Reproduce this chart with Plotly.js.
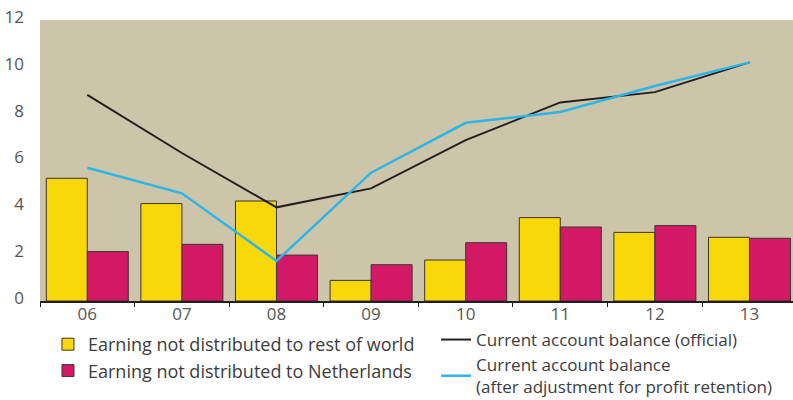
<!DOCTYPE html>
<html>
<head>
<meta charset="utf-8">
<script src="https://cdn.plot.ly/plotly-3.0.1.min.js"></script>
<style>html,body{margin:0;padding:0;background:#fff;}#chart{width:793px;height:400px;}</style>
</head>
<body>
<div id="chart"></div>
<script>
const years = ['06','07','08','09','10','11','12','13'];
const restOfWorld = [5.24, 4.16, 4.27, 0.88, 1.75, 3.56, 2.93, 2.72];
const netherlands = [2.11, 2.42, 1.96, 1.55, 2.49, 3.16, 3.22, 2.68];
const caOfficial = [8.80, 6.32, 4.00, 4.81, 6.87, 8.48, 8.92, 10.19];
const caAdjusted = [5.69, 4.60, 1.71, 5.48, 7.61, 8.07, 9.18, 10.19];
const yTicks = [0, 2, 4, 6, 8, 10, 12];

const legendFont1 = {family: 'Open Sans, DejaVu Sans, sans-serif', size: 18, color: '#3c3c3c'};
const legendFont2 = {family: 'Open Sans, DejaVu Sans, sans-serif', size: 17, color: '#3c3c3c'};
const tickFont = {family: 'Open Sans, Liberation Sans, sans-serif', size: 17, color: '#555555'};

const traces = [
  {type: 'bar', x: years, y: restOfWorld, name: 'Earning not distributed to rest of world',
   marker: {color: '#f8d808', line: {color: '#3a3530', width: 1}}, legend: 'legend'},
  {type: 'bar', x: years, y: netherlands, name: 'Earning not distributed to Netherlands',
   marker: {color: '#d31965', line: {color: '#3a3530', width: 1}}, legend: 'legend'},
  {type: 'scatter', mode: 'lines', x: years, y: caOfficial, name: 'Current account balance (official)',
   line: {color: '#231f20', width: 2}, legend: 'legend2'},
  {type: 'scatter', mode: 'lines', x: years, y: caAdjusted, name: 'Current account balance<br>(after adjustment for profit retention)',
   line: {color: '#2cb5e9', width: 2.5}, legend: 'legend2'}
];

const legendCommon = {
  orientation: 'v', yref: 'container', yanchor: 'top', xanchor: 'left',
  traceorder: 'normal', tracegroupgap: 0, itemclick: false,
  bgcolor: 'rgba(0,0,0,0)', borderwidth: 0
};

const layout = {
  width: 793, height: 400,
  margin: {l: 40, r: 0, t: 20, b: 99},
  paper_bgcolor: '#ffffff',
  plot_bgcolor: '#cdc5a9',
  barmode: 'group',
  bargap: 0.133,
  bargroupgap: 0,
  showlegend: true,
  legend: Object.assign({}, legendCommon, {x: 0.0106, y: 0.185, font: legendFont1}),
  legend2: Object.assign({}, legendCommon, {x: 0.526, y: 0.195, font: legendFont2}),
  xaxis: {
    type: 'category', range: [-0.5, 7.46], tickson: 'boundaries',
    ticks: 'outside', ticklen: 4, tickcolor: '#231f20', tickwidth: 1,
    showline: true, linecolor: '#231f20', linewidth: 1.5,
    showgrid: false, zeroline: false, tickfont: tickFont, ticklabelstandoff: -3, fixedrange: true
  },
  yaxis: {
    range: [0, 12], tickvals: yTicks, ticktext: yTicks.map(String),
    ticks: '', showline: false, showgrid: false, zeroline: false,
    tickfont: tickFont, ticklabelshift: -3, ticklabelstandoff: 15, fixedrange: true
  }
};

Plotly.newPlot('chart', traces, layout, {displayModeBar: false, staticPlot: true});
</script>
</body>
</html>
